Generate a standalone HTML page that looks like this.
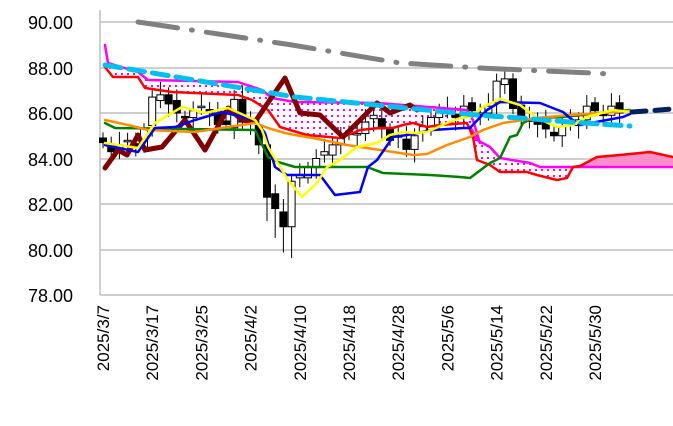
<!DOCTYPE html>
<html><head><meta charset="utf-8"><style>
html,body{margin:0;padding:0;background:#fff;}
svg{display:block;font-family:"Liberation Sans",sans-serif;}
</style></head><body>
<svg id="c" width="673" height="426" viewBox="0 0 673 426" xmlns="http://www.w3.org/2000/svg">
<defs>
<pattern id="dots" width="6" height="6" patternUnits="userSpaceOnUse">
<rect width="6" height="6" fill="#fff"/>
<rect x="1" y="1" width="2" height="2" fill="#ff00ff"/>
</pattern>
</defs>
<g stroke="#bfbfbf" stroke-width="1.5">
<line x1="100" y1="22" x2="673" y2="22"/><line x1="100" y1="68" x2="673" y2="68"/>
<line x1="100" y1="113" x2="673" y2="113"/><line x1="100" y1="159" x2="673" y2="159"/>
<line x1="100" y1="204" x2="673" y2="204"/><line x1="100" y1="250" x2="673" y2="250"/>
<line x1="100" y1="295" x2="673" y2="295"/><line x1="100" y1="10" x2="100" y2="295"/>
</g>
<g font-size="18" fill="#000" text-anchor="end">
<text x="73" y="29">90.00</text><text x="73" y="75">88.00</text><text x="73" y="120">86.00</text>
<text x="73" y="166">84.00</text><text x="73" y="211">82.00</text><text x="73" y="257">80.00</text>
<text x="73" y="302">78.00</text>
</g>
<g font-size="17" fill="#000" text-anchor="end" id="xl"></g>
<polygon fill="url(#dots)" points="105,45 108,63 138,72 148,80 238,82 262,90 272,98 295,102 377,103 467,110 473,120 480,143 470,127 477,140 490,147 500,158 530,163 540,167 573,167 573,167 567,178 557,180 537,175 527,172 500,172 490,165 477,160 470,150 480,163 473,137 467,123 440,125 427,127 413,123 403,125 393,128 380,128 360,130 353,133 340,138 307,135 290,130 280,127 285,127 268,110 252,100 238,95 172,92 145,88 138,77 113,77 105,67"/>
<polygon fill="#ff8fc8" points="573,167 673,167 673,157 650,152 620,155 597,157 580,166"/>
<g id="candles"></g>
<g fill="none" stroke-linejoin="round" stroke-linecap="round">
<polyline stroke="#808080" stroke-width="5" stroke-dasharray="40,14,1,14" points="138,22 292,45 400,63 480,68 612,74"/>
<polyline stroke="#ff00ff" stroke-width="2.5" points="105,45 108,63 138,72 148,80 238,82 262,90 272,98 295,102 377,103 467,110 473,120 480,143 470,127 477,140 490,147 500,158 530,163 540,167 673,167"/>
<polyline stroke="#ff0000" stroke-width="2.5" points="105,67 113,77 138,77 145,88 172,92 238,95 252,100 268,110 280,127 290,130 307,135 340,138 353,133 360,130 380,128 393,128 403,125 413,123 427,127 440,125 467,123 473,137 477,160 490,165 500,172 527,172 537,175 557,180 567,178 573,167 580,166 597,157 620,155 650,152 673,157"/>
<polyline stroke="#7f0000" stroke-width="5" points="105,168 118,150 127,155 138,135 145,150 162,147 185,120 205,150 228,108 242,120 255,122 265,107 285,78 300,113 320,115 343,137 360,120 377,103 390,113 410,105 417,110"/>
<polyline stroke="#008000" stroke-width="2.5" points="105,123 115,128 255,130 268,157 278,162 295,167 367,167 383,173 430,175 460,177 470,178 490,163 500,158 510,137 517,135 523,123 533,118 563,117 630,110"/>
<polyline stroke="#ff8c00" stroke-width="2.5" points="105,120 128,125 148,130 195,132 255,123 268,128 285,133 295,135 313,138 347,145 380,150 413,155 427,154 447,145 470,137 483,130 503,123 537,118 570,115 630,111"/>
<polyline stroke="#0000ff" stroke-width="2.5" points="105,145 138,152 155,128 175,127 195,120 222,112 255,120 265,133 275,167 287,175 320,175 335,195 360,192 368,167 377,160 393,137 407,135 433,130 463,128 470,128 487,110 500,102 540,103 563,112 570,118 580,125 623,117 630,114"/>
<polyline stroke="#ffff00" stroke-width="2.5" points="105,143 138,148 155,123 182,107 205,113 228,108 255,120 262,130 268,147 288,180 302,197 317,183 327,167 340,160 357,147 377,143 390,135 403,132 413,133 427,132 447,123 460,118 470,117 483,107 500,99 520,105 537,118 557,127 573,125 587,117 613,110 630,112"/>
<polyline stroke="#00c0f0" stroke-width="5" stroke-dasharray="16,8" points="105,65 295,97 477,115 520,118 570,122 630,126"/>
<polyline stroke="#002060" stroke-width="5" stroke-dasharray="14,9" points="632,112 673,109"/>
</g>
</svg>
<script>
var labels=["2025/3/7","2025/3/17","2025/3/25","2025/4/2","2025/4/10","2025/4/18","2025/4/28","2025/5/6","2025/5/14","2025/5/22","2025/5/30"];
var xl=document.getElementById('xl'),ns="http://www.w3.org/2000/svg";
labels.forEach(function(l,i){var x=103+i*49.2+6;var t=document.createElementNS(ns,'text');t.setAttribute('transform','translate('+x+',305) rotate(-90)');t.textContent=l;xl.appendChild(t);});
var c=[84.7,84.3,84.6,84.8,84.5,85.3,86.7,86.8,86.4,86.0,85.8,86.1,86.3,86.0,85.5,85.5,86.6,85.6,85.6,84.6,82.3,81.8,81.0,83.0,83.3,83.6,84.0,84.3,84.6,84.9,85.2,85.1,85.6,85.9,85.3,84.8,85.0,84.4,85.0,85.4,85.8,86.0,86.1,85.8,86.3,86.1,86.0,86.3,87.4,87.5,86.2,85.8,85.7,85.5,85.3,85.0,85.4,85.6,85.7,86.3,86.1,85.9,86.3,86.0];
function Y(v){return 22+(90-v)*22.75;}
var g=document.getElementById('candles'),o=84.9,h="";
for(var i=0;i<c.length;i++){var x=103+i*8.2,cl=c[i];var hi=Math.max(o,cl)+0.25+((i*7)%5)*0.08,lo=Math.min(o,cl)-0.25-((i*3)%5)*0.08;if(i>=20&&i<=23)lo-=0.8;
h+='<line x1="'+x+'" x2="'+x+'" y1="'+Y(hi)+'" y2="'+Y(lo)+'" stroke="#000" stroke-width="1"/>';
var t=Math.min(Y(o),Y(cl)),hh=Math.max(1.5,Math.abs(Y(o)-Y(cl)));
h+='<rect x="'+(x-3.5)+'" y="'+t+'" width="7" height="'+hh+'" fill="'+(cl<o?'#000':'#fff')+'" stroke="#000" stroke-width="1"/>';
o=cl+((i%3)-1)*0.15;}
g.innerHTML=h;
</script>
</body></html>
